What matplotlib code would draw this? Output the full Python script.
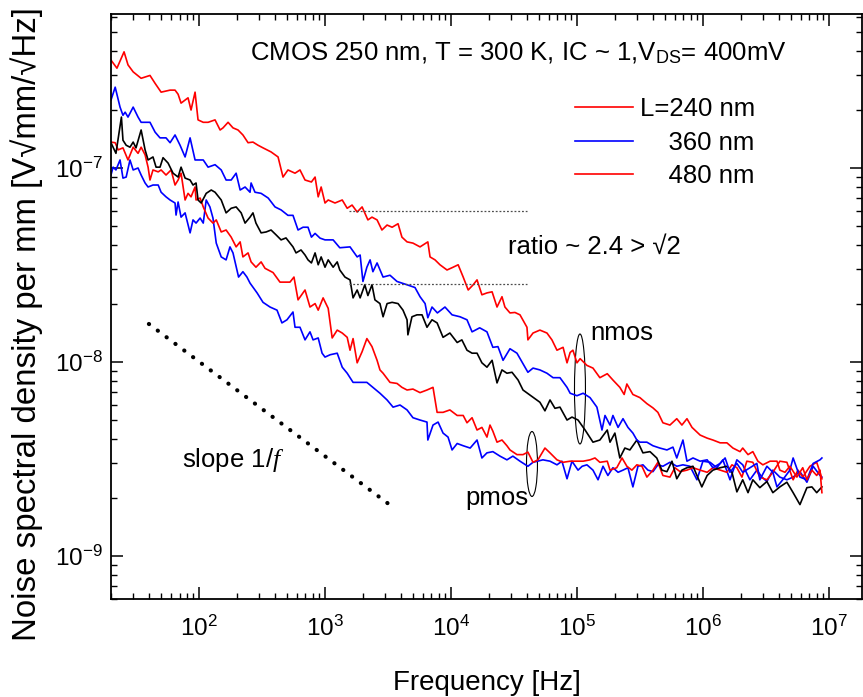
import matplotlib
matplotlib.use("Agg")
from matplotlib import pyplot as plt
from matplotlib.lines import Line2D
from matplotlib.patches import Ellipse
from matplotlib.ticker import LogLocator, NullFormatter

plt.rcParams['font.family'] = ['Liberation Sans', 'DejaVu Sans']
plt.rcParams['mathtext.fontset'] = 'custom'
plt.rcParams['mathtext.rm'] = 'Liberation Sans'
plt.rcParams['mathtext.it'] = 'Liberation Serif:italic'

# (frequency [Hz], noise [V sqrt(mm)/sqrt(Hz)])
nmos_240 = [(20, 3.6e-7), (22.3, 3.27e-7), (25.4, 3.97e-7), (27.3, 3.4e-7), (30.0, 3.13e-7), (34.7, 2.9e-7),
            (40.8, 3.0e-7), (44.8, 2.73e-7), (50.0, 2.46e-7), (58.9, 2.52e-7), (64.5, 2.52e-7), (68.2, 2.4e-7),
            (72.0, 2.16e-7), (81.8, 2.3e-7), (86.4, 1.99e-7), (93.0, 2.46e-7), (98.2, 1.77e-7), (108, 1.72e-7),
            (118, 1.72e-7), (134, 1.77e-7), (147, 1.57e-7), (155, 1.61e-7), (170, 1.72e-7), (186, 1.61e-7),
            (204, 1.57e-7), (223, 1.48e-7), (245, 1.35e-7), (268, 1.36e-7), (294, 1.31e-7), (322, 1.27e-7),
            (373, 1.21e-7), (424, 1.14e-7), (464, 8.98e-8), (508, 9.77e-8), (578, 9.4e-8), (633, 9.77e-8),
            (694, 8.67e-8), (780, 8.47e-8), (834, 8.98e-8), (883, 7.1e-8), (932, 7.98e-8), (1000, 6.6e-8),
            (1060, 6.84e-8), (1200, 6.6e-8), (1370, 6.84e-8), (1500, 6.2e-8), (1640, 6.44e-8), (1800, 5.93e-8),
            (1970, 6.3e-8), (2070, 5.87e-8), (2190, 5.4e-8), (2360, 5.58e-8), (2590, 5.4e-8), (2830, 4.79e-8),
            (3110, 5.08e-8), (3410, 4.95e-8), (3800, 5.16e-8), (4080, 4.4e-8), (4480, 4.16e-8), (4990, 4.1e-8),
            (5680, 3.92e-8), (6550, 4.16e-8), (6820, 3.48e-8), (7470, 3.36e-8), (8180, 3.17e-8), (9300, 2.98e-8),
            (10400, 3.08e-8), (11400, 3.17e-8), (12500, 2.74e-8), (13700, 2.35e-8), (15000, 2.5e-8),
            (16100, 2.65e-8), (17600, 2.22e-8), (19300, 2.27e-8), (21200, 2.3e-8), (23200, 1.92e-8),
            (25400, 2.17e-8), (26800, 1.92e-8), (29400, 1.79e-8), (32200, 1.8e-8), (35300, 1.75e-8),
            (40100, 1.51e-8), (40800, 1.30e-8), (44800, 1.41e-8), (50800, 1.46e-8), (57800, 1.41e-8),
            (63300, 1.30e-8), (69400, 1.15e-8), (77600, 1.19e-8), (83400, 9.9e-9), (88300, 1.12e-8),
            (92900, 1.15e-8), (1.0e5, 9.9e-9), (1.06e5, 1.04e-8), (1.2e5, 9.6e-9), (1.34e5, 9.3e-9),
            (1.52e5, 8.3e-9), (1.74e5, 8.7e-9), (1.93e5, 8.07e-9), (2.19e5, 7.4e-9), (2.37e5, 6.8e-9),
            (2.49e5, 7.7e-9), (2.78e5, 6.8e-9), (3.16e5, 6.55e-9), (3.59e5, 6.1e-9), (4.01e5, 5.8e-9),
            (4.39e5, 5.5e-9), (4.81e5, 4.86e-9), (5.47e5, 4.73e-9), (6.2e5, 5.1e-9), (6.81e5, 4.73e-9),
            (7.47e5, 5.1e-9), (8.19e5, 4.6e-9), (8.96e5, 4.35e-9), (9.5e5, 4.2e-9), (1.08e6, 4.05e-9),
            (1.2e6, 3.96e-9), (1.37e6, 3.83e-9), (1.55e6, 3.83e-9), (1.73e6, 3.6e-9), (1.97e6, 3.45e-9),
            (2.07e6, 3.6e-9), (2.28e6, 3.33e-9), (2.49e6, 3.45e-9), (2.73e6, 3.08e-9), (2.99e6, 2.95e-9),
            (3.41e6, 3.08e-9), (3.87e6, 3.08e-9), (4.08e6, 2.77e-9), (4.48e6, 2.7e-9), (4.9e6, 2.9e-9),
            (5.57e6, 2.55e-9), (6.2e6, 2.85e-9), (6.69e6, 2.47e-9), (7.33e6, 2.77e-9), (8.0e6, 2.6e-9),
            (8.5e6, 2.77e-9), (8.8e6, 2.12e-9)]

nmos_360 = [(20, 2.24e-7), (21.6, 2.61e-7), (23.6, 2.06e-7), (24.9, 1.87e-7), (25.9, 1.94e-7), (27.3, 1.83e-7),
            (30.0, 2.06e-7), (32.8, 1.83e-7), (34.7, 1.72e-7), (40.8, 1.72e-7), (44.8, 1.53e-7), (49.0, 1.43e-7),
            (54.7, 1.43e-7), (58.9, 1.35e-7), (64.5, 1.48e-7), (70.7, 1.31e-7), (77.5, 1.14e-7), (84.9, 1.43e-7),
            (93, 1.10e-7), (108, 1.10e-7), (118, 1.01e-7), (134, 1.04e-7), (150, 9.77e-8), (164, 8.67e-8),
            (180, 8.67e-8), (197, 9.4e-8), (212, 7.7e-8), (232, 7.98e-8), (254, 7.5e-8), (259, 8.37e-8),
            (278, 7.5e-8), (311, 7.4e-8), (354, 7.0e-8), (401, 6.3e-8), (448, 6.08e-8), (508, 5.7e-8),
            (557, 5.7e-8), (611, 4.79e-8), (669, 4.95e-8), (733, 4.95e-8), (780, 4.4e-8), (834, 4.6e-8),
            (913, 4.35e-8), (1000, 4.26e-8), (1160, 4.26e-8), (1310, 3.88e-8), (1580, 3.92e-8), (1800, 3.48e-8),
            (1900, 3.56e-8), (2000, 2.60e-8), (2150, 3.08e-8), (2280, 3.36e-8), (2400, 2.92e-8), (2590, 3.24e-8),
            (2890, 2.74e-8), (3280, 2.8e-8), (3730, 2.6e-8), (4480, 2.5e-8), (5180, 2.42e-8), (5680, 2.17e-8),
            (6230, 2.0e-8), (6550, 1.69e-8), (7070, 1.92e-8), (7800, 1.79e-8), (8960, 1.92e-8), (10200, 1.75e-8),
            (11800, 1.71e-8), (13400, 1.65e-8), (14700, 1.43e-8), (16900, 1.5e-8), (19300, 1.43e-8),
            (21500, 1.19e-8), (23600, 1.2e-8), (25900, 1.02e-8), (29400, 1.17e-8), (33400, 1.11e-8),
            (36600, 1.0e-8), (40800, 8.85e-9), (44800, 9.3e-9), (50800, 9.1e-9), (57800, 8.75e-9),
            (64600, 8.3e-9), (73300, 8.3e-9), (83400, 7.4e-9), (88300, 6.9e-9), (1.0e5, 6.7e-9),
            (1.12e5, 6.9e-9), (1.27e5, 6.55e-9), (1.44e5, 5.85e-9), (1.58e5, 4.46e-9), (1.67e5, 5.3e-9),
            (1.83e5, 4.73e-9), (1.93e5, 5.3e-9), (2.12e5, 4.6e-9), (2.32e5, 5.1e-9), (2.54e5, 4.6e-9),
            (2.78e5, 4.3e-9), (2.99e5, 3.96e-9), (3.16e5, 3.86e-9), (3.59e5, 3.86e-9), (4.01e5, 3.7e-9),
            (4.55e5, 3.6e-9), (5.18e5, 3.52e-9), (5.78e5, 3.64e-9), (6.2e5, 3.2e-9), (6.94e5, 3.96e-9),
            (7.47e5, 3.08e-9), (8.34e5, 3.2e-9), (9.5e5, 3.08e-9), (1.08e6, 3.13e-9), (1.2e6, 2.85e-9),
            (1.37e6, 3.0e-9), (1.5e6, 3.2e-9), (1.64e6, 2.7e-9), (1.86e6, 3.0e-9), (2.07e6, 2.7e-9),
            (2.36e6, 2.85e-9), (2.68e6, 3.0e-9), (2.83e6, 2.47e-9), (3.22e6, 2.9e-9), (3.59e6, 2.7e-9),
            (3.87e6, 2.27e-9), (4.3e6, 2.47e-9), (4.9e6, 2.77e-9), (5.2e6, 3.2e-9), (5.89e6, 2.55e-9),
            (6.69e6, 2.47e-9), (7.5e6, 3.0e-9), (8.5e6, 3.13e-9), (8.8e6, 3.2e-9)]

nmos_480 = [(20, 1.35e-7), (21.9, 1.19e-7), (24.2, 1.83e-7), (24.9, 1.39e-7), (26.4, 1.31e-7), (28.3, 1.28e-7),
            (30.0, 1.36e-7), (31.6, 1.27e-7), (34.7, 1.57e-7), (37.3, 1.24e-7), (39.4, 1.10e-7), (43.1, 1.14e-7),
            (45.6, 1.01e-7), (49.0, 1.01e-7), (51.8, 1.13e-7), (56.8, 1.06e-7), (62.2, 9.4e-8), (68.2, 8.98e-8),
            (72.0, 1.01e-7), (77.5, 8.87e-8), (84.9, 8.67e-8), (89.6, 8.17e-8), (94.7, 8.37e-8), (98.2, 6.84e-8),
            (104, 6.6e-8), (114, 7.4e-8), (125, 7.7e-8), (134, 7.5e-8), (150, 6.84e-8), (164, 5.87e-8),
            (180, 6.2e-8), (197, 6.3e-8), (216, 5.87e-8), (232, 5.2e-8), (254, 5.58e-8), (268, 5.87e-8),
            (283, 5.2e-8), (311, 4.63e-8), (341, 4.68e-8), (373, 4.79e-8), (409, 4.52e-8), (448, 4.26e-8),
            (490, 4.36e-8), (557, 3.92e-8), (589, 3.65e-8), (645, 3.78e-8), (694, 3.56e-8), (733, 3.36e-8),
            (780, 3.24e-8), (834, 3.65e-8), (883, 3.17e-8), (932, 3.48e-8), (1000, 3.08e-8), (1060, 3.36e-8),
            (1160, 3.08e-8), (1250, 3.28e-8), (1310, 2.98e-8), (1440, 2.74e-8), (1580, 2.65e-8), (1670, 2.14e-8),
            (1800, 2.35e-8), (1900, 2.14e-8), (2070, 2.5e-8), (2190, 2.2e-8), (2360, 2.5e-8), (2490, 2.09e-8),
            (2730, 2.0e-8), (2890, 1.71e-8), (3110, 2.0e-8), (3410, 2.03e-8), (3800, 2.0e-8), (4160, 1.85e-8),
            (4480, 1.65e-8), (4550, 1.38e-8), (4900, 1.71e-8), (5370, 1.75e-8), (5890, 1.75e-8), (6450, 1.51e-8),
            (7070, 1.65e-8), (7760, 1.59e-8), (8650, 1.34e-8), (9800, 1.41e-8), (11200, 1.26e-8),
            (12200, 1.30e-8), (13400, 1.15e-8), (14700, 1.11e-8), (16100, 1.11e-8), (17600, 9.9e-9),
            (19300, 9.4e-9), (21200, 1.02e-8), (23200, 7.8e-9), (25400, 9.1e-9), (27800, 8.75e-9),
            (30500, 8.85e-9), (34100, 8.07e-9), (37300, 7.17e-9), (50800, 6.2e-9), (55700, 5.6e-9),
            (61100, 6.37e-9), (66900, 5.77e-9), (73300, 5.85e-9), (83400, 5.02e-9), (91300, 5.2e-9),
            (1.02e5, 5.02e-9), (1.16e5, 4.46e-9), (1.34e5, 3.86e-9), (1.52e5, 3.96e-9), (1.74e5, 4.46e-9),
            (1.83e5, 3.86e-9), (2.0e5, 4.3e-9), (2.19e5, 3.2e-9), (2.4e5, 3.6e-9), (2.63e5, 3.52e-9),
            (2.99e5, 3.96e-9), (3.34e5, 3.4e-9), (3.8e5, 3.45e-9), (4.3e5, 3.2e-9), (4.72e5, 2.77e-9),
            (5.18e5, 2.72e-9), (5.68e5, 3.08e-9), (6.2e5, 2.5e-9), (6.81e5, 2.77e-9), (7.47e5, 2.85e-9),
            (8.34e5, 2.9e-9), (9.8e5, 2.27e-9), (1.08e6, 2.6e-9), (1.2e6, 2.77e-9), (1.37e6, 2.85e-9),
            (1.55e6, 2.9e-9), (1.7e6, 2.7e-9), (1.86e6, 2.14e-9), (2.07e6, 2.47e-9), (2.28e6, 2.12e-9),
            (2.49e6, 2.47e-9), (2.83e6, 2.25e-9), (3.22e6, 2.42e-9), (3.59e6, 2.12e-9), (4.08e6, 2.27e-9),
            (4.64e6, 2.4e-9), (5.2e6, 2.12e-9), (5.89e6, 1.84e-9), (6.69e6, 2.25e-9), (7.33e6, 2.27e-9),
            (8.0e6, 2.12e-9), (8.8e6, 2.27e-9)]

pmos_240 = [(20, 1.36e-7), (21.6, 1.35e-7), (22.8, 1.24e-7), (24.9, 1.27e-7), (27.3, 1.10e-7), (30.0, 1.28e-7),
            (32.8, 1.19e-7), (34.7, 1.28e-7), (37.3, 1.17e-7), (39.4, 1.01e-7), (40.8, 8.67e-8), (43.1, 9.77e-8),
            (47.4, 9.55e-8), (50.0, 9.77e-8), (54.7, 9.2e-8), (60.0, 9.77e-8), (64.5, 8.17e-8), (68.2, 8.67e-8),
            (72.0, 9.4e-8), (77.5, 6.84e-8), (81.8, 7.4e-8), (86.4, 7.1e-8), (93.0, 7.98e-8), (94.7, 6.84e-8),
            (102, 7.0e-8), (108, 6.3e-8), (118, 5.52e-8), (129, 5.2e-8), (137, 5.4e-8), (150, 4.68e-8),
            (164, 4.79e-8), (180, 4.4e-8), (197, 3.92e-8), (212, 4.16e-8), (223, 3.48e-8), (245, 3.65e-8),
            (259, 3.28e-8), (283, 3.08e-8), (311, 3.28e-8), (334, 3.04e-8), (387, 2.89e-8), (439, 2.58e-8),
            (527, 2.58e-8), (567, 2.74e-8), (611, 2.09e-8), (694, 2.35e-8), (760, 1.92e-8), (834, 2.0e-8),
            (883, 1.85e-8), (966, 2.14e-8), (1060, 1.89e-8), (1140, 1.33e-8), (1250, 1.46e-8), (1370, 1.41e-8),
            (1500, 1.34e-8), (1580, 1.15e-8), (1670, 1.32e-8), (1800, 9.9e-9), (1970, 1.13e-8), (2150, 1.32e-8),
            (2360, 1.20e-8), (2590, 1.02e-8), (2730, 9.1e-9), (2890, 8.75e-9), (3280, 7.85e-9), (3730, 7.75e-9),
            (4080, 7.4e-9), (4480, 7.17e-9), (4990, 7.25e-9), (5680, 6.95e-9), (6450, 7.17e-9), (7200, 7.4e-9),
            (7760, 5.5e-9), (8650, 5.5e-9), (9800, 5.66e-9), (11200, 5.3e-9), (12500, 5.3e-9), (13400, 4.86e-9),
            (14700, 5.16e-9), (16100, 4.46e-9), (17600, 4.6e-9), (19300, 4.1e-9), (20400, 4.73e-9),
            (21500, 4.4e-9), (23200, 3.86e-9), (25400, 3.96e-9), (27800, 3.7e-9), (29400, 3.52e-9),
            (33400, 3.33e-9), (37300, 3.33e-9), (40800, 3.43e-9), (44800, 3.04e-9), (49000, 3.13e-9),
            (55700, 3.6e-9), (61100, 3.4e-9), (69400, 3.13e-9), (77600, 3.04e-9), (88300, 3.08e-9),
            (1.0e5, 3.08e-9), (1.12e5, 3.08e-9), (1.27e5, 3.13e-9), (1.39e5, 3.2e-9), (1.52e5, 3.04e-9),
            (1.74e5, 3.08e-9), (1.83e5, 2.77e-9), (2.07e5, 2.85e-9), (2.28e5, 3.2e-9), (2.49e5, 2.9e-9),
            (2.73e5, 2.77e-9), (2.99e5, 2.95e-9), (3.28e5, 2.9e-9), (3.59e5, 2.55e-9), (4.01e5, 2.77e-9),
            (4.39e5, 3.04e-9), (4.81e5, 2.6e-9), (5.47e5, 2.55e-9), (5.99e5, 2.85e-9), (6.59e5, 2.72e-9),
            (7.47e5, 2.77e-9), (8.34e5, 2.85e-9), (9.5e5, 2.77e-9), (1.08e6, 2.7e-9), (1.2e6, 2.85e-9),
            (1.37e6, 2.77e-9), (1.55e6, 2.7e-9), (1.7e6, 2.95e-9), (1.86e6, 2.85e-9), (2.04e6, 2.55e-9),
            (2.23e6, 3.08e-9), (2.49e6, 3.04e-9), (2.83e6, 2.55e-9), (3.22e6, 2.47e-9), (3.59e6, 2.7e-9),
            (4.08e6, 3.08e-9), (4.64e6, 3.04e-9), (5.2e6, 2.47e-9), (5.68e6, 2.77e-9), (6.2e6, 2.55e-9),
            (7.07e6, 2.9e-9), (8.0e6, 3.04e-9), (8.5e6, 2.7e-9), (8.8e6, 2.5e-9)]

pmos_360 = [(20, 9.2e-8), (20.8, 1.01e-7), (21.9, 9.77e-8), (23.6, 1.10e-7), (24.9, 8.87e-8), (26.4, 8.98e-8),
            (28.3, 1.10e-7), (30.0, 9.77e-8), (32.8, 1.0e-7), (34.7, 9.2e-8), (37.3, 8.37e-8), (39.4, 7.98e-8),
            (43.1, 8.17e-8), (47.4, 8.17e-8), (50.0, 7.5e-8), (54.7, 7.1e-8), (58.9, 6.84e-8), (64.5, 6.6e-8),
            (65.7, 5.72e-8), (68.2, 6.68e-8), (72.0, 5.58e-8), (77.5, 5.87e-8), (84.9, 4.63e-8), (89.6, 5.4e-8),
            (94.7, 5.2e-8), (102, 5.52e-8), (108, 5.2e-8), (114, 6.84e-8), (122, 6.3e-8), (129, 5.52e-8),
            (137, 4.1e-8), (150, 3.48e-8), (164, 3.36e-8), (176, 3.92e-8), (186, 3.65e-8), (206, 2.74e-8),
            (223, 2.92e-8), (240, 2.74e-8), (254, 2.55e-8), (289, 2.27e-8), (322, 2.03e-8), (366, 1.92e-8),
            (416, 1.85e-8), (455, 1.59e-8), (499, 1.65e-8), (557, 1.81e-8), (578, 1.51e-8), (633, 1.51e-8),
            (694, 1.30e-8), (760, 1.43e-8), (804, 1.30e-8), (883, 1.33e-8), (948, 1.11e-8), (1000, 1.06e-8),
            (1100, 1.09e-8), (1250, 1.11e-8), (1370, 9.4e-9), (1500, 8.75e-9), (1670, 7.85e-9), (1900, 7.85e-9),
            (2150, 7.85e-9), (2400, 7.4e-9), (2730, 6.9e-9), (3110, 6.37e-9), (3470, 5.85e-9), (3940, 6.0e-9),
            (4480, 5.66e-9), (4990, 5.16e-9), (5680, 5.02e-9), (6450, 4.9e-9), (6550, 3.96e-9), (7200, 4.73e-9),
            (7900, 4.9e-9), (8650, 4.3e-9), (9480, 4.1e-9), (10200, 3.52e-9), (11200, 3.8e-9), (12500, 3.7e-9),
            (14200, 3.6e-9), (16100, 3.96e-9), (17600, 3.2e-9), (19300, 3.4e-9), (21500, 3.45e-9),
            (24500, 3.27e-9), (27800, 3.13e-9), (31000, 3.27e-9), (35300, 3.08e-9), (40800, 2.9e-9),
            (44800, 3.04e-9), (53700, 3.13e-9), (61100, 3.08e-9), (69400, 2.95e-9), (76000, 3.08e-9),
            (83400, 2.5e-9), (91300, 3.08e-9), (1.02e5, 2.77e-9), (1.1e5, 2.9e-9), (1.2e5, 2.95e-9),
            (1.34e5, 2.77e-9), (1.47e5, 2.47e-9), (1.61e5, 2.9e-9), (1.76e5, 2.6e-9), (1.93e5, 2.85e-9),
            (2.12e5, 2.7e-9), (2.32e5, 2.77e-9), (2.54e5, 2.85e-9), (2.78e5, 2.27e-9), (3.05e5, 2.9e-9),
            (3.34e5, 2.95e-9), (3.66e5, 2.77e-9), (4.01e5, 2.72e-9), (4.39e5, 2.95e-9), (4.81e5, 2.9e-9),
            (5.47e5, 3.04e-9), (6.2e5, 2.9e-9), (6.94e5, 2.95e-9), (7.9e5, 2.9e-9), (8.96e5, 2.47e-9),
            (1.0e6, 3.08e-9), (1.14e6, 3.04e-9), (1.29e6, 2.85e-9), (1.44e6, 3.13e-9), (1.64e6, 2.47e-9),
            (1.86e6, 3.13e-9), (2.07e6, 2.95e-9), (2.36e6, 2.47e-9), (2.68e6, 2.77e-9), (2.94e6, 2.55e-9),
            (3.22e6, 2.42e-9), (3.59e6, 2.77e-9), (4.08e6, 2.55e-9), (4.64e6, 2.47e-9), (5.2e6, 2.55e-9),
            (5.89e6, 2.72e-9), (6.69e6, 2.4e-9), (7.5e6, 2.9e-9), (8.5e6, 2.6e-9), (8.8e6, 2.55e-9)]

# drawing order and colours as in the original figure
curves = [(pmos_360, "blue"), (pmos_240, "red"), (nmos_480, "black"),
          (nmos_360, "blue"), (nmos_240, "red")]

legend_labels = ["L=240 nm", "    360 nm", "    480 nm"]
legend_colors = ["red", "blue", "red"]

x_major = [1e2, 1e3, 1e4, 1e5, 1e6, 1e7]
y_major = [1e-9, 1e-8, 1e-7]

slope_f = [40, 3600]
slope_v = [1.57e-8, 1.75e-9]

ratio_f = [1550, 40000]
ratio_high = 6.0e-8
ratio_low = 2.52e-8

fig = plt.figure(figsize=(8.63, 6.97), dpi=100)
ax = fig.add_axes([0.1286, 0.1406, 0.8702, 0.8393])
ax.set_xscale("log")
ax.set_yscale("log")

for data, col in curves:
    f = [p[0] for p in data]
    v = [p[1] for p in data]
    ax.plot(f, v, color=col, lw=1.2)

ax.plot(ratio_f, [ratio_high, ratio_high], color="0.3", lw=0.9, ls=(0, (1.5, 1.5)))
ax.plot(ratio_f, [ratio_low, ratio_low], color="0.3", lw=0.9, ls=(0, (1.5, 1.5)))
ax.plot(slope_f, slope_v, color="black", lw=3, ls=(0, (0.05, 2.6)), dash_capstyle="round")

ax.set_xticks(x_major)
ax.set_yticks(y_major)
ax.xaxis.set_minor_locator(LogLocator(base=10, subs=range(2, 10), numticks=12))
ax.yaxis.set_minor_locator(LogLocator(base=10, subs=range(2, 10), numticks=12))
ax.xaxis.set_minor_formatter(NullFormatter())
ax.yaxis.set_minor_formatter(NullFormatter())
ax.set_xlim(20, 1.83e7)
ax.set_ylim(6.0e-10, 6.22e-7)

ax.tick_params(which="both", direction="in", top=True, right=True)
ax.tick_params(which="major", length=8.5, width=1.1, labelsize=17.5)
ax.tick_params(which="minor", length=4.5, width=1.0)
ax.tick_params(axis="x", which="major", pad=12)
ax.tick_params(axis="y", which="major", pad=6)
for s in ax.spines.values():
    s.set_linewidth(1.3)

ax.set_xlabel("Frequency [Hz]", fontsize=20, labelpad=21)
ax.set_ylabel("Noise spectral density per mm [V\u221amm/\u221aHz]", fontsize=23.8)
ax.yaxis.set_label_coords(-0.0905, 0.47)

ax.text(0.185, 0.933, "CMOS 250 nm, T = 300 K, IC ~ 1,V$_{\\rm DS}$= 400mV",
        transform=ax.transAxes, fontsize=18.5, ha="left", va="center")
ax.text(28300, 3.92e-8, "ratio ~ 2.4 > \u221a2", fontsize=18.5, ha="left", va="center")
ax.text(1.27e5, 1.30e-8, "nmos", fontsize=18.5, ha="left", va="baseline")
ax.text(12900, 1.83e-9, "pmos", fontsize=18.5, ha="left", va="baseline")
ax.text(73.3, 2.88e-9, "slope 1/$f$", fontsize=18.5, ha="left", va="baseline")

ax.add_patch(Ellipse((0.6245, 0.359), 0.0146, 0.188, transform=ax.transAxes,
                     fill=False, ec="black", lw=0.8))
ax.add_patch(Ellipse((0.5606, 0.2308), 0.0146, 0.111, transform=ax.transAxes,
                     fill=False, ec="black", lw=0.8))

handles = [Line2D([], [], color=c, lw=1.2) for c in legend_colors]
ax.legend(handles, legend_labels, loc="upper left", bbox_to_anchor=(0.618, 0.858),
          frameon=False, fontsize=18.5, borderpad=0, borderaxespad=0,
          handlelength=2.26, handletextpad=0.27, labelspacing=0.37)

fig.savefig("out.png", dpi=100)
